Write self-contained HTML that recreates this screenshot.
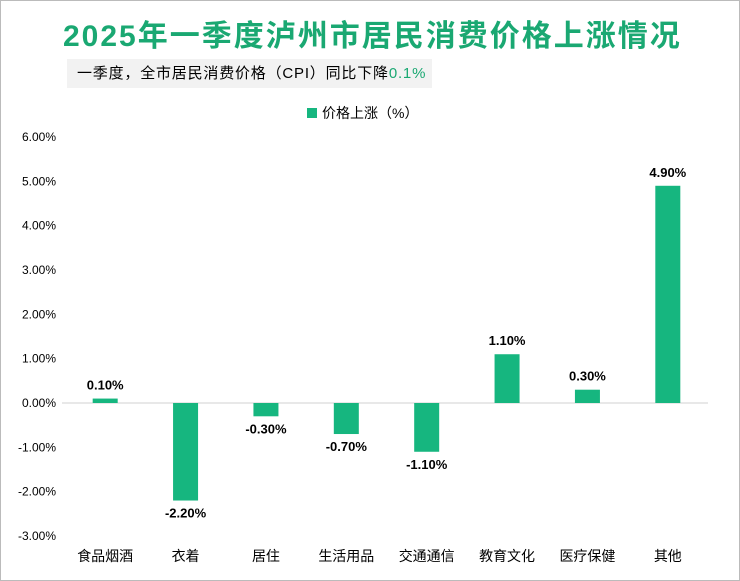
<!DOCTYPE html>
<html><head><meta charset="utf-8"><style>
body{margin:0;width:740px;height:581px;overflow:hidden;background:#fff;font-family:"Liberation Sans","Noto Sans CJK SC",sans-serif}
#frame{position:absolute;left:0;top:0;width:738px;height:579px;border:1px solid #bbb}
#title{position:absolute;left:63px;top:11px;width:640px;font-size:30px;letter-spacing:2px;font-weight:bold;color:#1aa872;white-space:nowrap}
#sub{position:absolute;left:67px;top:59px;width:365px;height:29px;background:#f2f2f2;font-size:15px;letter-spacing:0.8px;line-height:29px;padding-left:10px;box-sizing:border-box;color:#000;white-space:nowrap}
#sub span{color:#1aa872}
</style></head><body>
<div id="frame"></div>
<div id="title">2025年一季度泸州市居民消费价格上涨情况</div>
<div id="sub">一季度，全市居民消费价格（CPI）同比下降<span>0.1%</span></div>
<svg id="chart" width="740" height="581" style="position:absolute;left:0;top:0"></svg>
<script>
const categories=["食品烟酒","衣着","居住","生活用品","交通通信","教育文化","医疗保健","其他"];
const values=[0.10,-2.20,-0.30,-0.70,-1.10,1.10,0.30,4.90];
const ticks=[6,5,4,3,2,1,0,-1,-2,-3];
const NS="http://www.w3.org/2000/svg";
const svg=document.getElementById('chart');
const x0=65,x1=708,bw=(x1-x0)/categories.length;
const y=v=>403-v*44.33;
const xc=i=>x0+bw*(i+0.5);
function el(t,a,txt){const e=document.createElementNS(NS,t);for(const k in a)e.setAttribute(k,a[k]);if(txt!=null)e.textContent=txt;svg.appendChild(e);return e;}
const lg=el('rect',{x:307,y:108,width:10,height:10,fill:'#16b67f'});


const lt=el('text',{x:322,y:118,'font-size':14,fill:'#000'},'价格上涨（%）');


ticks.forEach(t=>{const e=el('text',{x:56,y:y(t)+4,'font-size':12,'text-anchor':'end',fill:'#000'},t.toFixed(2)+'%');

});
const ax=el('line',{x1:62,x2:x1,y1:y(0),y2:y(0),stroke:'#d0d0d0','stroke-width':1});


categories.forEach((c,i)=>{
 const v=values[i];const top=Math.min(y(v),y(0));const h=Math.abs(y(v)-y(0));
 const r=el('rect',{x:xc(i)-12.5,y:top,width:25,height:h,fill:'#16b67f'});
 
 
 const ly=v>=0?y(v)-9:y(v)+17;
 const l=el('text',{x:xc(i),y:ly,'font-size':13,'font-weight':'bold','text-anchor':'middle',fill:'#000'},v.toFixed(2)+'%');
 
 
 const cl=el('text',{x:xc(i),y:561,'font-size':14,'text-anchor':'middle',fill:'#000'},c);
 
 
});
</script>
</body></html>
